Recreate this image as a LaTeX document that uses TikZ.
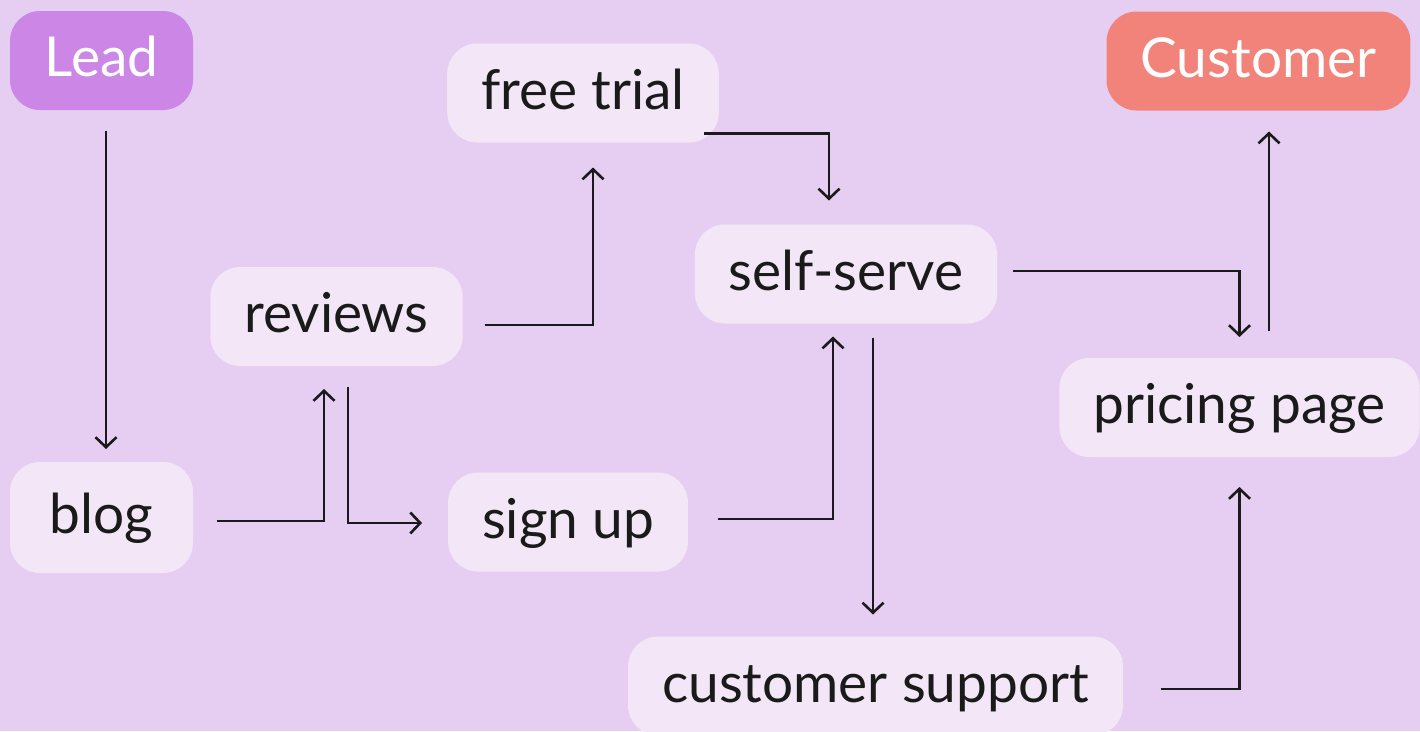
\documentclass[tikz,border=0pt]{standalone}
\usepackage{fontspec}
\setmainfont{Lato}
\usetikzlibrary{arrows.meta}

\definecolor{canvas}{HTML}{E6CEF2}
\definecolor{stepfill}{HTML}{F3E6F7}
\definecolor{leadfill}{HTML}{CB86E6}
\definecolor{custfill}{HTML}{F2837A}
\definecolor{ink}{HTML}{1A1A1A}

\begin{document}
\begin{tikzpicture}[x=1pt, y=-1pt,
  >={Straight Barb[length=10pt,width=21pt]},
  box/.style={rounded corners=30pt, fill=stepfill, text=ink,
              inner xsep=34pt, inner ysep=0pt, outer sep=0pt,
              minimum height=99pt, minimum width=183pt,
              text height=44pt, text depth=12pt,
              font=\fontsize{55}{60}\selectfont},
  endbox/.style={box, text=white},
  link/.style 2 args={->, draw=ink, line width=2.6pt,
                      shorten <=#1, shorten >=#2}]

  \useasboundingbox (0,0) rectangle (1420,731);
  \fill[canvas] (0,0) rectangle (1420,731);

  \node[endbox, fill=leadfill] (lead)     at (101.5,60.5) {Lead};
  \node[endbox, fill=custfill] (customer) at (1258.5,61)  {Customer};
  \node[box] (trial)     at (583,93)      {free trial};
  \node[box] (reviews)   at (336.5,316.5) {reviews};
  \node[box] (selfserve) at (846,274)     {self-serve};
  \node[box] (pricing)   at (1239.5,407.5) {pricing page};
  \node[box, minimum height=111pt] (blog) at (101.5,517.5) {blog};
  \node[box] (signup)    at (568,522)     {sign up};
  \node[box] (support)   at (875.5,686)   {customer support};

  \draw[link={21pt}{13pt}] ([xshift=4.5pt]lead.south) -- ([xshift=4.5pt]blog.north);
  \draw[link={24pt}{23pt}] ([yshift=-3.5pt]blog.east) -| ([xshift=-12.5pt]reviews.south);
  \draw[link={21pt}{26pt}] ([xshift=11.5pt]reviews.south) |- ([yshift=-1pt]signup.west);
  \draw[link={22pt}{25pt}] ([yshift=-8.5pt]reviews.east) -| ([xshift=10pt]trial.south);
  \draw[link={0pt}{24pt}] ([xshift=-15pt,yshift=9pt]trial.south east) -| ([xshift=-17pt]selfserve.north);
  \draw[link={30pt}{13pt}] ([yshift=3pt]signup.east) -| ([xshift=-13pt]selfserve.south);
  \draw[link={14pt}{22pt}] ([xshift=27pt]selfserve.south) -- ([xshift=27pt]selfserve.south |- support.north);
  \draw[link={16pt}{21pt}] ([yshift=3pt]selfserve.east) -| (pricing.north);
  \draw[link={27pt}{21pt}] ([xshift=29.5pt]pricing.north) -- ([xshift=29.5pt]pricing.north |- customer.south);
  \draw[link={38pt}{30pt}] ([yshift=-3pt]support.east) -| (pricing.south);

\end{tikzpicture}
\end{document}
